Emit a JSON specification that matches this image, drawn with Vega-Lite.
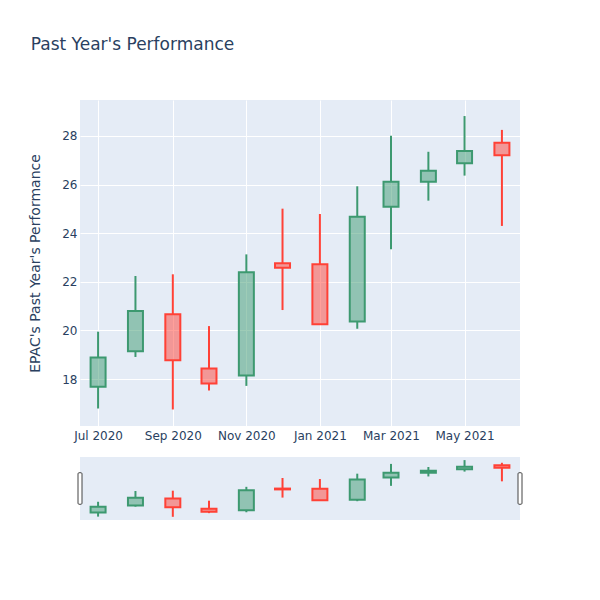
{
  "$schema": "https://vega.github.io/schema/vega-lite/v6.json",
  "background": "white",
  "padding": {"left": 28, "top": 36, "right": 80, "bottom": 80},
  "title": {"text": "Past Year's Performance", "anchor": "start", "fontSize": 17, "font": "DejaVu Sans", "fontWeight": "normal", "color": "#2a3f5f", "offset": 46, "dx": 2},
  "datasets": {
    "ohlc": [
      {"date": "2020-07-01", "open": 17.68, "high": 19.95, "low": 16.79, "close": 18.89},
      {"date": "2020-08-01", "open": 19.14, "high": 22.24, "low": 18.91, "close": 20.80},
      {"date": "2020-09-01", "open": 20.67, "high": 22.31, "low": 16.75, "close": 18.77},
      {"date": "2020-10-01", "open": 18.44, "high": 20.18, "low": 17.53, "close": 17.82},
      {"date": "2020-11-01", "open": 18.15, "high": 23.13, "low": 17.72, "close": 22.39},
      {"date": "2020-12-01", "open": 22.76, "high": 25.01, "low": 20.84, "close": 22.58},
      {"date": "2021-01-01", "open": 22.72, "high": 24.79, "low": 20.26, "close": 20.26},
      {"date": "2021-02-01", "open": 20.37, "high": 25.93, "low": 20.07, "close": 24.68},
      {"date": "2021-03-01", "open": 25.09, "high": 28.01, "low": 23.34, "close": 26.12},
      {"date": "2021-04-01", "open": 26.12, "high": 27.35, "low": 25.34, "close": 26.57},
      {"date": "2021-05-01", "open": 26.88, "high": 28.82, "low": 26.37, "close": 27.38},
      {"date": "2021-06-01", "open": 27.72, "high": 28.25, "low": 24.30, "close": 27.21}
    ],
    "handles": [
      {"date": "2020-06-16", "lo": 19.42, "hi": 26.13},
      {"date": "2021-06-16", "lo": 19.42, "hi": 26.13}
    ]
  },
  "config": {
    "view": {"fill": "#e5ecf6", "stroke": null},
    "font": "DejaVu Sans",
    "scale": {"continuousPadding": 0},
    "axis": {"labelFont": "DejaVu Sans", "labelColor": "#2a3f5f", "labelFontSize": 12, "titleFont": "DejaVu Sans", "titleColor": "#2a3f5f", "titleFontWeight": "normal", "titleFontSize": 14, "domain": false, "ticks": false, "gridColor": "white", "gridWidth": 1}
  },
  "spacing": 16,
  "vconcat": [
    {
      "width": 440,
      "height": 326,
      "data": {"name": "ohlc"},
      "transform": [
        {"calculate": "datum.close >= datum.open ? 'Increasing' : 'Decreasing'", "as": "dir"},
        {"calculate": "min(datum.open, datum.close)", "as": "bodyLo"},
        {"calculate": "max(datum.open, datum.close)", "as": "bodyHi"}
      ],
      "encoding": {
        "x": {"field": "date", "type": "temporal", "scale": {"domain": ["2020-06-16", "2021-06-16"], "nice": false, "padding": 0},
          "axis": {"title": null, "format": "%b %Y", "labelPadding": 4, "grid": true,
            "values": [{"year": 2020, "month": "jul", "date": 1}, {"year": 2020, "month": "sep", "date": 1}, {"year": 2020, "month": "nov", "date": 1}, {"year": 2021, "month": "jan", "date": 1}, {"year": 2021, "month": "mar", "date": 1}, {"year": 2021, "month": "may", "date": 1}]}},
        "color": {"field": "dir", "type": "nominal", "scale": {"domain": ["Increasing", "Decreasing"], "range": ["#3D9970", "#FF4136"]}, "legend": null}
      },
      "layer": [
        {"mark": {"type": "rule", "strokeWidth": 2},
          "encoding": {"y": {"field": "low", "type": "quantitative", "scale": {"domain": [16.07, 29.48], "nice": false, "zero": false, "padding": 0},
            "axis": {"title": "EPAC's Past Year's Performance", "values": [18, 20, 22, 24, 26, 28], "labelPadding": 3, "titlePadding": 19, "grid": true}},
            "y2": {"field": "bodyLo"}}},
        {"mark": {"type": "rule", "strokeWidth": 2},
          "encoding": {"y": {"field": "bodyHi", "type": "quantitative", "axis": {"title": "EPAC's Past Year's Performance", "values": [18, 20, 22, 24, 26, 28], "labelPadding": 3, "titlePadding": 19, "grid": true}},
            "y2": {"field": "high"}}},
        {"mark": {"type": "bar", "width": 15, "fillOpacity": 0.5, "strokeWidth": 2},
          "encoding": {"y": {"field": "open", "type": "quantitative", "axis": {"title": "EPAC's Past Year's Performance", "values": [18, 20, 22, 24, 26, 28], "labelPadding": 3, "titlePadding": 19, "grid": true}},
            "y2": {"field": "close"},
            "stroke": {"field": "dir", "type": "nominal", "scale": {"domain": ["Increasing", "Decreasing"], "range": ["#3D9970", "#FF4136"]}, "legend": null}}}
      ]
    },
    {
      "width": 440,
      "height": 63,
      "layer": [
        {
          "data": {"name": "ohlc"},
          "transform": [
            {"calculate": "datum.close >= datum.open ? 'Increasing' : 'Decreasing'", "as": "dir"},
            {"calculate": "min(datum.open, datum.close)", "as": "bodyLo"},
            {"calculate": "max(datum.open, datum.close)", "as": "bodyHi"}
          ],
          "encoding": {
            "x": {"field": "date", "type": "temporal", "scale": {"domain": ["2020-06-16", "2021-06-16"], "nice": false, "padding": 0}, "axis": null},
            "color": {"field": "dir", "type": "nominal", "scale": {"domain": ["Increasing", "Decreasing"], "range": ["#3D9970", "#FF4136"]}, "legend": null}
          },
          "layer": [
            {"mark": {"type": "rule", "strokeWidth": 2},
              "encoding": {"y": {"field": "low", "type": "quantitative", "scale": {"domain": [16.07, 29.48], "nice": false, "zero": false, "padding": 0}, "axis": null}, "y2": {"field": "bodyLo"}}},
            {"mark": {"type": "rule", "strokeWidth": 2},
              "encoding": {"y": {"field": "bodyHi", "type": "quantitative", "axis": null}, "y2": {"field": "high"}}},
            {"mark": {"type": "bar", "width": 15, "fillOpacity": 0.5, "strokeWidth": 2},
              "encoding": {"y": {"field": "open", "type": "quantitative", "axis": null}, "y2": {"field": "close"},
                "stroke": {"field": "dir", "type": "nominal", "scale": {"domain": ["Increasing", "Decreasing"], "range": ["#3D9970", "#FF4136"]}, "legend": null}}}
          ]
        },
        {
          "data": {"name": "handles"},
          "mark": {"type": "bar", "width": 4, "fill": "white", "stroke": "#444", "strokeWidth": 1, "cornerRadius": 1},
          "encoding": {
            "x": {"field": "date", "type": "temporal", "axis": null},
            "y": {"field": "lo", "type": "quantitative", "axis": null},
            "y2": {"field": "hi"}
          }
        }
      ]
    }
  ]
}
